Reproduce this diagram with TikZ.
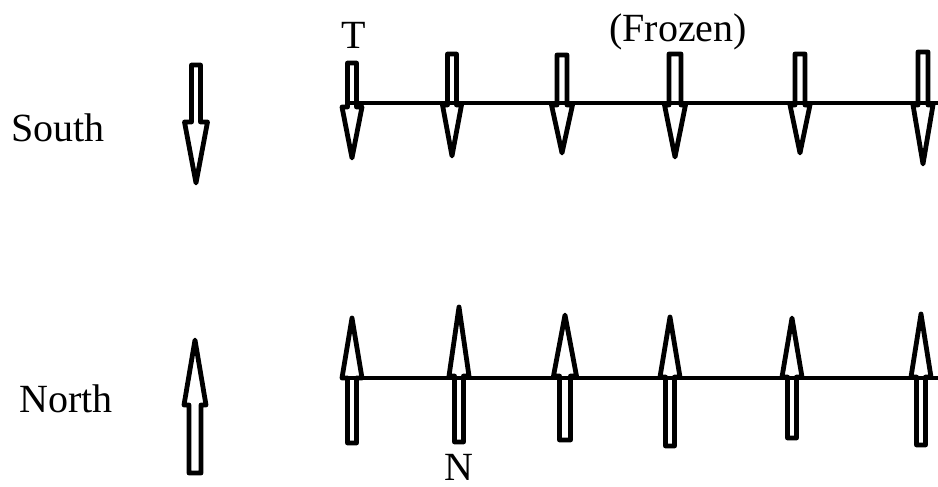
\documentclass[tikz,border=0pt]{standalone}
\usepackage{fontspec}
\setmainfont{Liberation Serif}
\tikzset{
  blockarrow/.style={draw=black, line width=4.8pt, line join=round},
  axisline/.style={draw=black, line width=4.8pt},
  lbl/.style={inner sep=0pt, anchor=base west, font=\fontsize{40}{48}\selectfont}
}
% down arrow: x, shaft top, head base, tip, shaft half width, head half width
\newcommand\dnarr[6]{%
  \draw[blockarrow] (#1-#5,#2) -- (#1+#5,#2) -- (#1+#5,#3) -- (#1+#6,#3)
    -- (#1,#4) -- (#1-#6,#3) -- (#1-#5,#3) -- cycle;}
% up arrow: x, tip, head base, shaft bottom, shaft half width, head half width
\newcommand\uparr[6]{%
  \draw[blockarrow] (#1-#5,#4) -- (#1+#5,#4) -- (#1+#5,#3) -- (#1+#6,#3)
    -- (#1,#2) -- (#1-#6,#3) -- (#1-#5,#3) -- cycle;}
\begin{document}
\begin{tikzpicture}[x=1pt,y=-1pt]
\useasboundingbox (0,0) rectangle (938,487);
% horizontal lines
\coordinate (tl) at (350,103); \coordinate (tr) at (938,103);
\coordinate (bl) at (345,378); \coordinate (br) at (938,378);
\draw[axisline] (tl) -- (tr);
\draw[axisline] (bl) -- (br);
% top row (down)
\dnarr{352}{63}{107}{158}{4.5}{10}
\dnarr{452}{54}{105}{156}{4.5}{9.5}
\dnarr{562}{55}{105}{153}{5}{10.5}
\dnarr{675}{54}{105}{157}{6}{10.5}
\dnarr{800}{54}{105}{153}{5}{10}
\dnarr{923}{52}{105}{164}{5}{10}
% bottom row (up)
\uparr{352}{318}{378}{443}{4.5}{10}
\uparr{459}{307}{376}{442}{4.5}{10}
\uparr{565}{315}{376}{440}{5.5}{11.5}
\uparr{670}{317}{377}{446}{4.5}{10}
\uparr{792}{318}{377}{438}{4.5}{10}
\uparr{921}{314}{377}{445}{4.5}{10}
% left arrows
\dnarr{196}{65}{122}{183}{4.5}{11.5}
\uparr{195}{340}{405}{473}{6}{11}
% labels
\node[lbl] (south) at (11,142) {South};
\node[lbl] (north) at (19,412) {North};
\node[lbl] (t) at (341,49) {T};
\node[lbl] (n) at (444,480) {N};
\node[lbl] (frozen) at (609,42) {(Frozen)};
\end{tikzpicture}
\end{document}
